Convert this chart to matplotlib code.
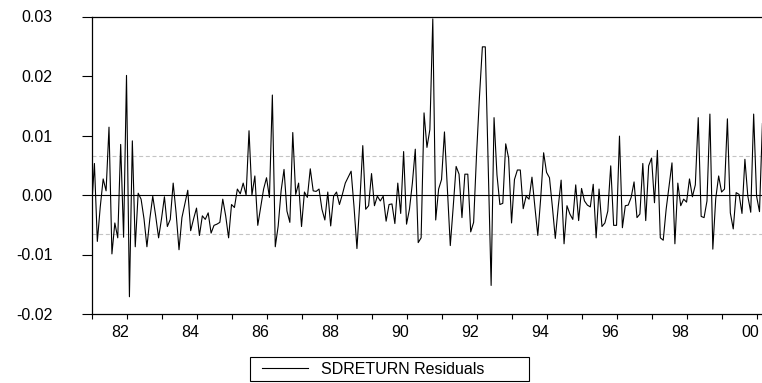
import numpy as np
import matplotlib
matplotlib.use("Agg")
import matplotlib.pyplot as plt
from matplotlib.patches import Rectangle
from matplotlib.transforms import ScaledTranslation
from matplotlib.ticker import FormatStrFormatter

plt.rcParams['font.family'] = ['Liberation Sans', 'DejaVu Sans']
plt.rcParams['axes.unicode_minus'] = False

# monthly residuals, starting 1981:01
start_year = 1981
resid = [
    -0.0024, 0.0053, -0.0078, -0.0020, 0.0027, 0.0007, 0.0114, -0.0099, -0.0047, -0.0072,
    0.0085, -0.0071, 0.0201, -0.0171, 0.0091, -0.0087, 0.0003, -0.0007, -0.0040, -0.0087,
    -0.0040, -0.0002, -0.0035, -0.0072, -0.0040, -0.0003, -0.0053, -0.0041, 0.0020, -0.0030,
    -0.0092, -0.0038, -0.0015, 0.0008, -0.0060, -0.0040, -0.0022, -0.0068, -0.0035, -0.0041,
    -0.0030, -0.0064, -0.0051, -0.0049, -0.0046, -0.0007, -0.0035, -0.0072, -0.0016, -0.0021,
    0.0010, 0.0002, 0.0020, 0.0000, 0.0108, 0.0000, 0.0032, -0.0051, -0.0020, 0.0010,
    0.0029, -0.0004, 0.0168, -0.0087, -0.0052, 0.0007, 0.0043, -0.0027, -0.0046, 0.0105,
    0.0001, 0.0020, -0.0053, 0.0005, -0.0004, 0.0044, 0.0007, 0.0006, 0.0010, -0.0024,
    -0.0042, 0.0005, -0.0052, -0.0002, 0.0005, -0.0016, 0.0001, 0.0020, 0.0030, 0.0040,
    -0.0020, -0.0090, -0.0010, 0.0083, -0.0024, -0.0018, 0.0036, -0.0018, -0.0002, -0.0010,
    -0.0002, -0.0044, -0.0016, -0.0015, -0.0048, 0.0020, -0.0031, 0.0073, -0.0049, -0.0024,
    0.0020, 0.0077, -0.0080, -0.0072, 0.0138, 0.0080, 0.0110, 0.0296, -0.0042, 0.0010,
    0.0026, 0.0106, 0.0010, -0.0085, -0.0020, 0.0048, 0.0035, -0.0038, 0.0035, 0.0035,
    -0.0062, -0.0046, 0.0068, 0.0165, 0.0249, 0.0249, 0.0048, -0.0152, 0.0130, 0.0034,
    -0.0016, -0.0014, 0.0086, 0.0062, -0.0047, 0.0026, 0.0042, 0.0042, -0.0023, -0.0002,
    -0.0007, 0.0030, -0.0020, -0.0068, -0.0005, 0.0071, 0.0038, 0.0029, -0.0020, -0.0073,
    -0.0020, 0.0025, -0.0082, -0.0018, -0.0032, -0.0041, 0.0017, -0.0043, 0.0011, -0.0010,
    -0.0017, -0.0020, 0.0018, -0.0072, 0.0010, -0.0053, -0.0047, -0.0027, 0.0049, -0.0051,
    -0.0051, 0.0099, -0.0055, -0.0018, -0.0017, -0.0004, 0.0022, -0.0038, -0.0032, 0.0053,
    -0.0043, 0.0049, 0.0062, -0.0013, 0.0075, -0.0072, -0.0076, -0.0024, 0.0015, 0.0054,
    -0.0082, 0.0020, -0.0018, -0.0007, -0.0012, 0.0027, -0.0003, 0.0017, 0.0130, -0.0036,
    -0.0038, -0.0010, 0.0136, -0.0091, -0.0006, 0.0032, 0.0005, 0.0010, 0.0128, -0.0030,
    -0.0057, 0.0004, 0.0001, -0.0031, 0.0060, -0.0002, -0.0029, 0.0136, -0.0002, -0.0028,
    0.0120,
]
band = 0.0065  # +/- one standard error lines

label_years = [1982, 1984, 1986, 1988, 1990, 1992, 1994, 1996, 1998, 2000]
year_labels = ['82', '84', '86', '88', '90', '92', '94', '96', '98', '00']
minor_years = [1981, 1983, 1985, 1987, 1989, 1991, 1993, 1995, 1997, 1999]
y_ticks = [-0.02, -0.01, 0.0, 0.01, 0.02, 0.03]

t = start_year + np.arange(len(resid)) / 12.0

fig = plt.figure(figsize=(7.62, 3.83), dpi=100)
ax = fig.add_axes([91.5 / 762, 69 / 383, 670.5 / 762, 297.5 / 383])

ax.axhline(band, color='#c4c4c4', lw=0.8, ls=(0, (3.6, 2.4)))
ax.axhline(-band, color='#c4c4c4', lw=0.8, ls=(0, (3.6, 2.4)))
ax.axhline(0, color='black', lw=0.8)
ax.plot(t, resid, color='black', lw=0.8, label='SDRETURN Residuals')

ax.set_xlim(start_year, start_year + 229.86 / 12)
ax.set_ylim(-0.02, 0.03)

ax.spines['right'].set_visible(False)
for s in ['left', 'top', 'bottom']:
    ax.spines[s].set_linewidth(0.9)
    ax.spines[s].set_color('black')

ax.set_xticks(label_years)
ax.set_xticklabels(year_labels)
ax.set_xticks(minor_years, minor=True)
ax.tick_params(axis='x', which='both', direction='out', length=3.6, width=0.8,
               labelsize=11.5, pad=4)
shift = ScaledTranslation(-6 / 100, 0, fig.dpi_scale_trans)
for lab in ax.get_xticklabels():
    lab.set_transform(lab.get_transform() + shift)

ax.set_yticks(y_ticks)
ax.yaxis.set_major_formatter(FormatStrFormatter('%.2f'))
ax.tick_params(axis='y', direction='out', length=7.2, width=0.8, labelsize=11.5, pad=21)

# legend box below the plot
fig.patches.append(Rectangle((250 / 762, 2 / 383), 279 / 762, 24 / 383,
                             transform=fig.transFigure, fill=False,
                             edgecolor='black', linewidth=0.8))
fig.legend(loc='center left', bbox_to_anchor=(261.7 / 762, 14 / 383),
           frameon=False, borderpad=0, borderaxespad=0, fontsize=11.5,
           handlelength=2.88, handletextpad=0.86)

fig.savefig('out.png', dpi=100)
